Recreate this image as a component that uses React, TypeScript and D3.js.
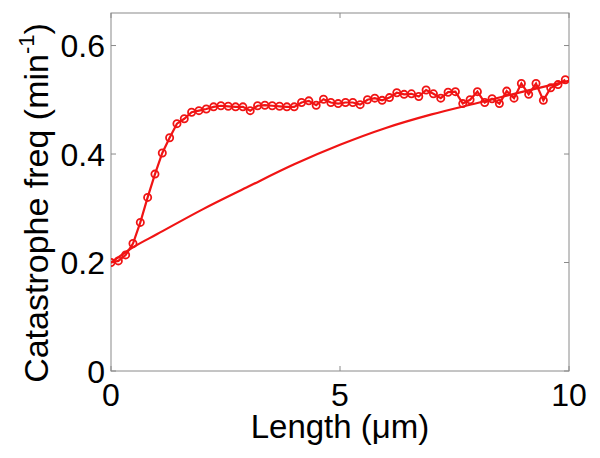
import React from 'react';
import * as d3 from 'd3';

// measured catastrophe frequency, binned by length (um)
const lengths = [
  0, 0.16, 0.32, 0.48, 0.64, 0.8, 0.96, 1.12, 1.28, 1.44,
  1.6, 1.76, 1.92, 2.08, 2.24, 2.4, 2.56, 2.72, 2.88, 3.04,
  3.2, 3.36, 3.52, 3.68, 3.84, 4.0, 4.16, 4.32, 4.48, 4.64,
  4.8, 4.96, 5.12, 5.28, 5.44, 5.6, 5.76, 5.92, 6.08, 6.24,
  6.4, 6.56, 6.72, 6.88, 7.04, 7.2, 7.36, 7.52, 7.68, 7.84,
  8.0, 8.16, 8.32, 8.48, 8.64, 8.8, 8.96, 9.12, 9.28, 9.44,
  9.6, 9.76, 9.92
];
const catFreq = [
  0.200, 0.203, 0.214, 0.235, 0.274, 0.320, 0.363, 0.402, 0.430, 0.456,
  0.465, 0.477, 0.480, 0.483, 0.487, 0.489, 0.488, 0.487, 0.487, 0.480,
  0.489, 0.490, 0.489, 0.488, 0.487, 0.487, 0.495, 0.498, 0.490, 0.501,
  0.495, 0.493, 0.495, 0.495, 0.491, 0.500, 0.503, 0.499, 0.504, 0.513,
  0.510, 0.511, 0.506, 0.518, 0.511, 0.503, 0.514, 0.515, 0.493, 0.500,
  0.515, 0.495, 0.502, 0.493, 0.516, 0.503, 0.530, 0.510, 0.530, 0.499,
  0.522, 0.528, 0.537
];

// model curve, sampled
const modelX = [0, 0.5, 1, 2, 3, 4, 5, 6, 7, 8, 9, 10];
const modelY = [0.200, 0.229, 0.252, 0.298, 0.340, 0.381, 0.417, 0.448, 0.473, 0.494, 0.515, 0.535];

const xTicks = [0, 5, 10];
const yTicks = [0, 0.2, 0.4, 0.6];

const red = '#f01414';
const axisColor = '#8a8a8a';
const font = 'Liberation Sans, Arial, sans-serif';

export default function App() {
  const width = 600;
  const height = 458;
  const margin = { top: 13, right: 31, bottom: 87, left: 111 };

  const x = d3.scaleLinear().domain([0, 10]).range([margin.left, width - margin.right]);
  const y = d3.scaleLinear().domain([0, 0.66]).range([height - margin.bottom, margin.top]);

  const dataLine = d3.line<number>()
    .x((d, i) => x(lengths[i]))
    .y(d => y(d));

  const modelLine = d3.line<number>()
    .x((d, i) => x(modelX[i]))
    .y(d => y(d))
    .curve(d3.curveMonotoneX);

  const [x0, x1] = x.range();
  const [y0, y1] = y.range();
  const tick = 5;

  return (
    <svg width={width} height={height} style={{ position: 'absolute', left: 0, top: 0, background: '#fff' }}>
      <defs>
        <clipPath id="plotArea">
          <rect x={x0} y={y1} width={x1 - x0} height={y0 - y1} />
        </clipPath>
      </defs>

      {/* box and ticks */}
      <rect x={x0} y={y1} width={x1 - x0} height={y0 - y1} fill="none" stroke={axisColor} strokeWidth={1} />
      {xTicks.map(t => (
        <g key={'xt' + t}>
          <line x1={x(t)} x2={x(t)} y1={y0} y2={y0 - tick} stroke={axisColor} />
          <line x1={x(t)} x2={x(t)} y1={y1} y2={y1 + tick} stroke={axisColor} />
          <text x={x(t)} y={y0 + 35} textAnchor="middle" fontFamily={font} fontSize={32}>{t}</text>
        </g>
      ))}
      {yTicks.map(t => (
        <g key={'yt' + t}>
          <line x1={x0} x2={x0 + tick} y1={y(t)} y2={y(t)} stroke={axisColor} />
          <line x1={x1} x2={x1 - tick} y1={y(t)} y2={y(t)} stroke={axisColor} />
          <text x={x0 - 6} y={y(t) + 11.5} textAnchor="end" fontFamily={font} fontSize={32}>{t}</text>
        </g>
      ))}

      <g clipPath="url(#plotArea)">
        <path d={modelLine(modelY) || ''} fill="none" stroke={red} strokeWidth={2.2} />
        <path d={dataLine(catFreq) || ''} fill="none" stroke={red} strokeWidth={2.2} />
        {catFreq.map((v, i) => (
          <circle key={i} cx={x(lengths[i])} cy={y(v)} r={3.6} fill="none" stroke={red} strokeWidth={1.8} />
        ))}
      </g>

      {/* axis labels */}
      <text x={(x0 + x1) / 2} y={438} textAnchor="middle" fontFamily={font} fontSize={33}>
        Length (μm)
      </text>
      <text transform={`translate(48,203) rotate(-90)`} textAnchor="middle" fontFamily={font} fontSize={34}>
        Catastrophe freq (min<tspan fontSize={22} dy={-14}>-1</tspan><tspan dy={14}>)</tspan>
      </text>
    </svg>
  );
}
